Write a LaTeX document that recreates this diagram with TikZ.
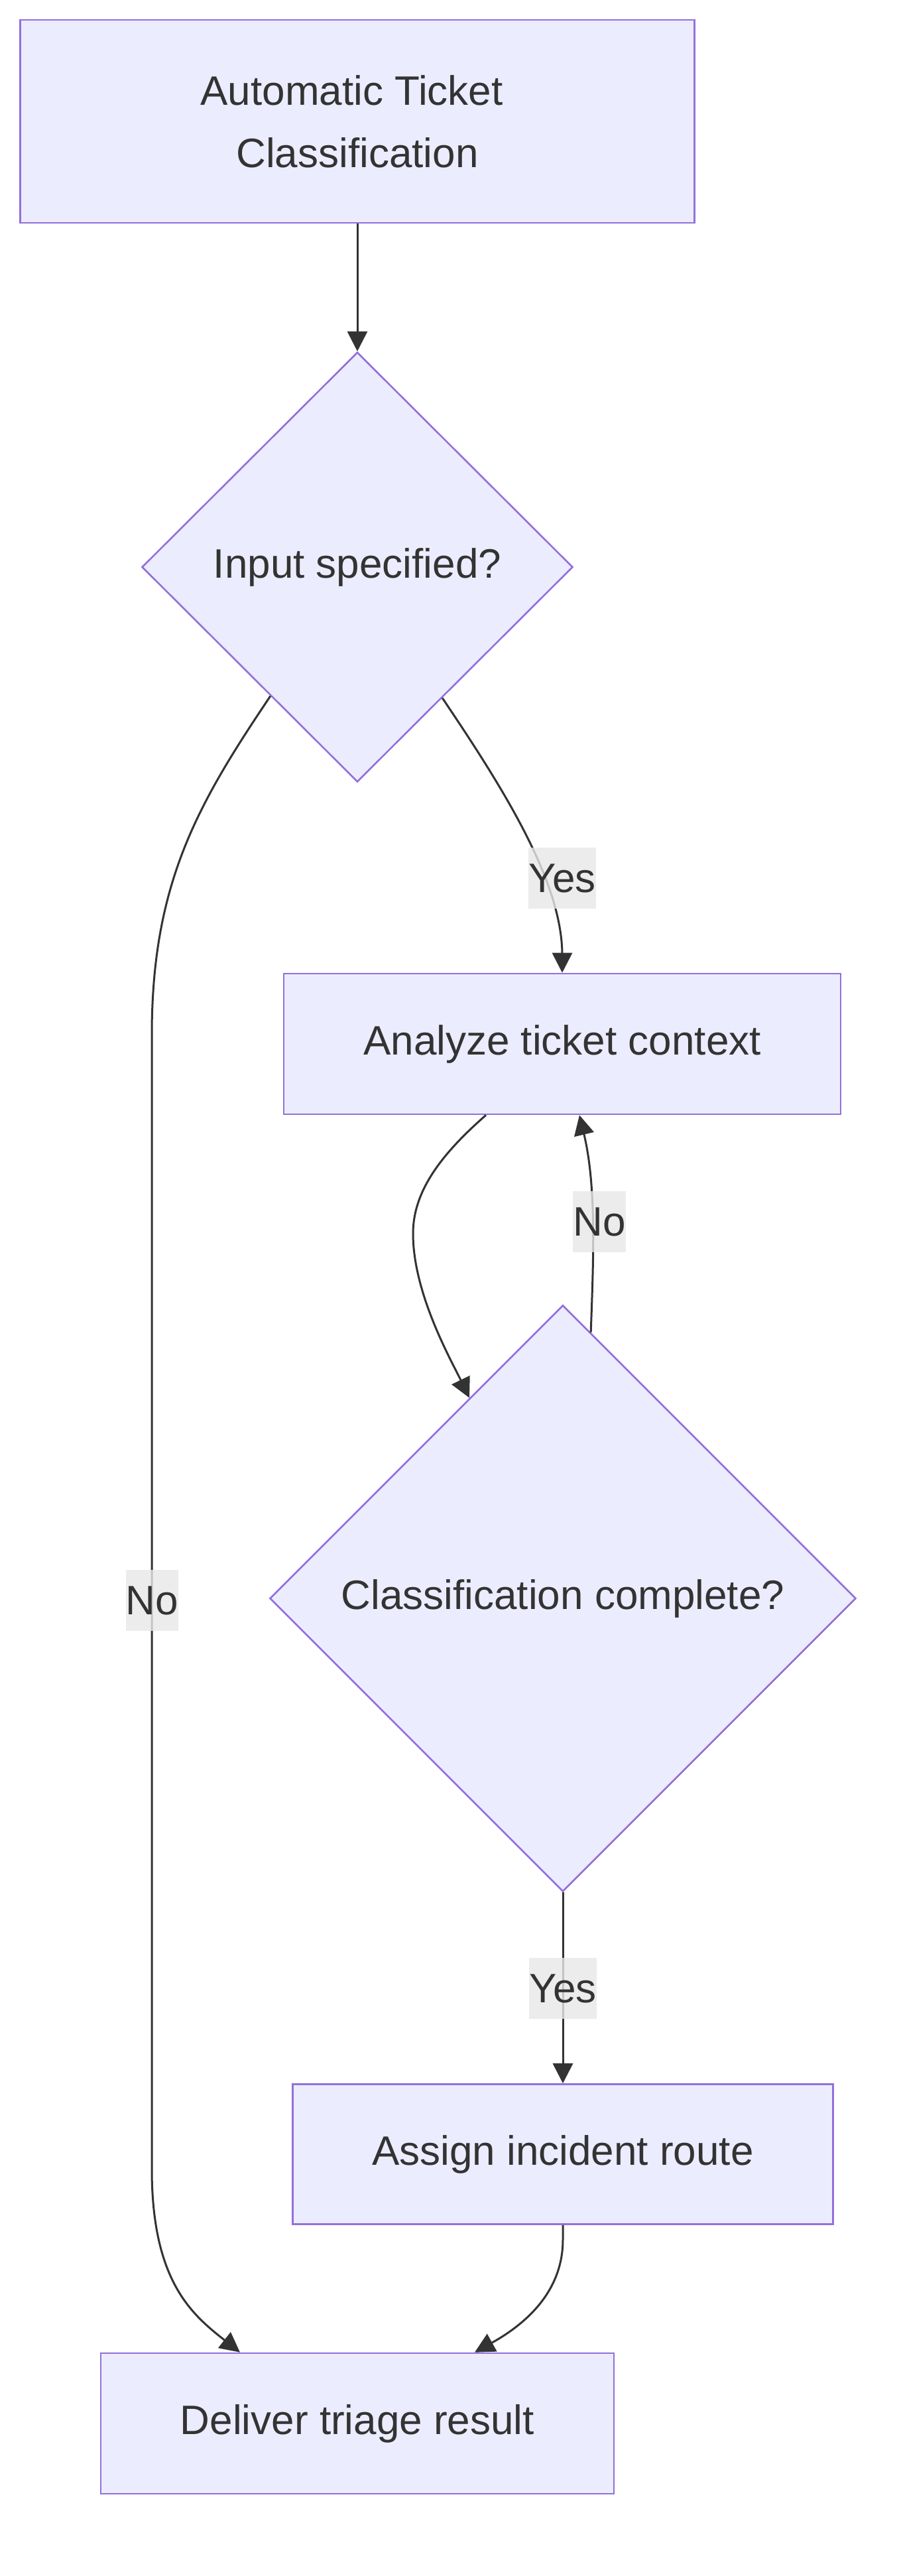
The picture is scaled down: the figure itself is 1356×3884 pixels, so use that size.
\documentclass[tikz,border=0pt]{standalone}
\usepackage{fontspec}
\setmainfont{Liberation Sans}
\usetikzlibrary{shapes.geometric,arrows.meta}
\definecolor{nodefill}{HTML}{ECECFF}
\definecolor{nodeline}{HTML}{9370DB}
\definecolor{txt}{HTML}{333333}
\definecolor{edgecol}{HTML}{333333}
\definecolor{lblbg}{HTML}{E8E8E8}
\tikzset{
  box/.style={rectangle, draw=nodeline, fill=nodefill, line width=2.6pt, inner sep=0pt, text=txt, font=\fontsize{62}{94}\selectfont},
  decision/.style={diamond, shape aspect=1, draw=nodeline, fill=nodefill, line width=2.6pt, inner sep=0pt, text=txt, font=\fontsize{62}{94}\selectfont},
  edge/.style={draw=edgecol, line width=3pt, -{Triangle[length=30pt,width=30pt]}},
  lbl/.style={fill=lblbg, fill opacity=0.8, text opacity=1, inner xsep=0pt, inner ysep=0pt, minimum height=92pt, text=txt, font=\fontsize{62}{74}\selectfont}
}
\begin{document}
\begin{tikzpicture}[x=1pt,y=-1pt]
\useasboundingbox (0,0) rectangle (1356,3884);
\fill[white] (0,0) rectangle (1356,3884);
% nodes
\node[box, minimum width=1017pt, minimum height=306pt, align=center] (n1) at (539,183) {Automatic Ticket\hspace*{17pt}\\Classification};
\node[decision, minimum width=650pt, minimum height=648pt] (d1) at (539,855) {Input specified?};
\node[box, minimum width=840pt, minimum height=212pt] (n2) at (848,1574) {Analyze ticket context};
\node[decision, minimum width=884pt, minimum height=884pt] (d2) at (849,2410) {Classification complete?};
\node[box, minimum width=815pt, minimum height=211pt] (n3) at (849,3248) {Assign incident route};
\node[box, minimum width=774pt, minimum height=212pt] (n4) at (539,3654) {Deliver triage result};
% edges
\draw[edge] (n1.south) -- (d1.north);
\draw[edge] (d1.-57) .. controls (760,1190) and (848,1330) .. (848,1440) -- (n2.north);
\draw[edge] (d1.-124) .. controls (300,1210) and (229,1330) .. (229,1560) -- (229,3270) .. controls (229,3440) and (290,3490) .. ([xshift=-177pt]n4.north);
\draw[edge] ([xshift=-115pt]n2.south) .. controls (660,1745) and (623,1800) .. (623,1860) .. controls (623,1950) and (680,2050) .. (d2.115);
\draw[edge] (d2.84.5) .. controls (895,1900) and (900,1790) .. ([xshift=26pt]n2.south);
\draw[edge] (d2.south) -- (n3.north);
\draw[edge] (n3.south) -- ++(0,22) .. controls (849,3450) and (800,3500) .. ([xshift=177pt]n4.north);
% labels
\node[lbl] (lyes1) at (848,1324) {Yes};
\node[lbl] (lno1) at (229.5,2413) {No};
\node[lbl] (lno2) at (904,1842) {No};
\node[lbl] (lyes2) at (849,2998) {Yes};
\end{tikzpicture}
\end{document}
